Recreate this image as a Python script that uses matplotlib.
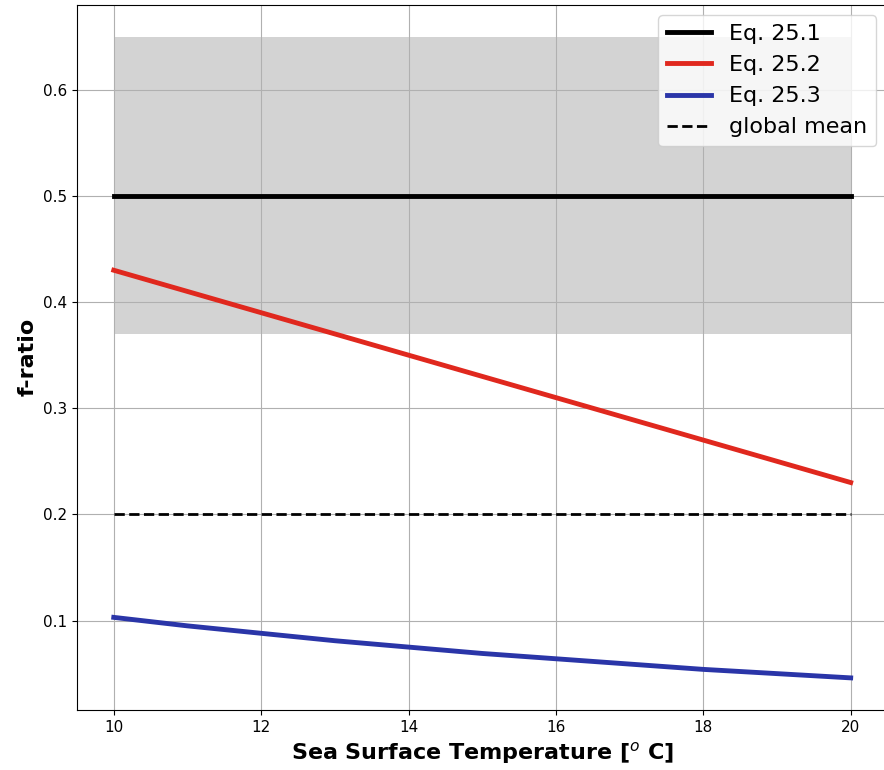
import numpy as np
import matplotlib
matplotlib.use("Agg")
import matplotlib.pyplot as plt

# sea surface temperature [C]
sst = [10, 11, 12, 13, 14, 15, 16, 17, 18, 19, 20]
eq_25_1 = [0.5] * 11
eq_25_2 = [0.43, 0.41, 0.39, 0.37, 0.35, 0.33, 0.31, 0.29, 0.27, 0.25, 0.23]
eq_25_3 = [0.103, 0.095, 0.088, 0.081, 0.075, 0.069, 0.064, 0.059, 0.054, 0.050, 0.046]
global_mean = [0.2] * 11
band_low, band_high = 0.37, 0.65

fig = plt.figure(figsize=(8.84, 7.7), dpi=100)
ax = fig.add_axes([0.087, 0.078, 0.917, 0.916])

ax.fill_between(sst, band_low, band_high, color="lightgray", lw=0)
ax.plot(sst, eq_25_1, color="black", lw=3.5, label="Eq. 25.1")
ax.plot(sst, eq_25_2, color="#e0281e", lw=3.5, label="Eq. 25.2")
ax.plot(sst, eq_25_3, color="#2a35a8", lw=3.5, label="Eq. 25.3")
ax.plot(sst, global_mean, "k--", lw=2, label="global mean")

ax.grid(True)
ax.tick_params(labelsize=11)
ax.set_xlabel("Sea Surface Temperature [$^o$ C]", fontsize=16, fontweight="bold")
ax.set_ylabel("f-ratio", fontsize=16, fontweight="bold")
ax.legend(loc="upper right", fontsize=16, bbox_to_anchor=(0.986, 0.985),
          borderaxespad=0)

fig.savefig("out.png", dpi=100)
